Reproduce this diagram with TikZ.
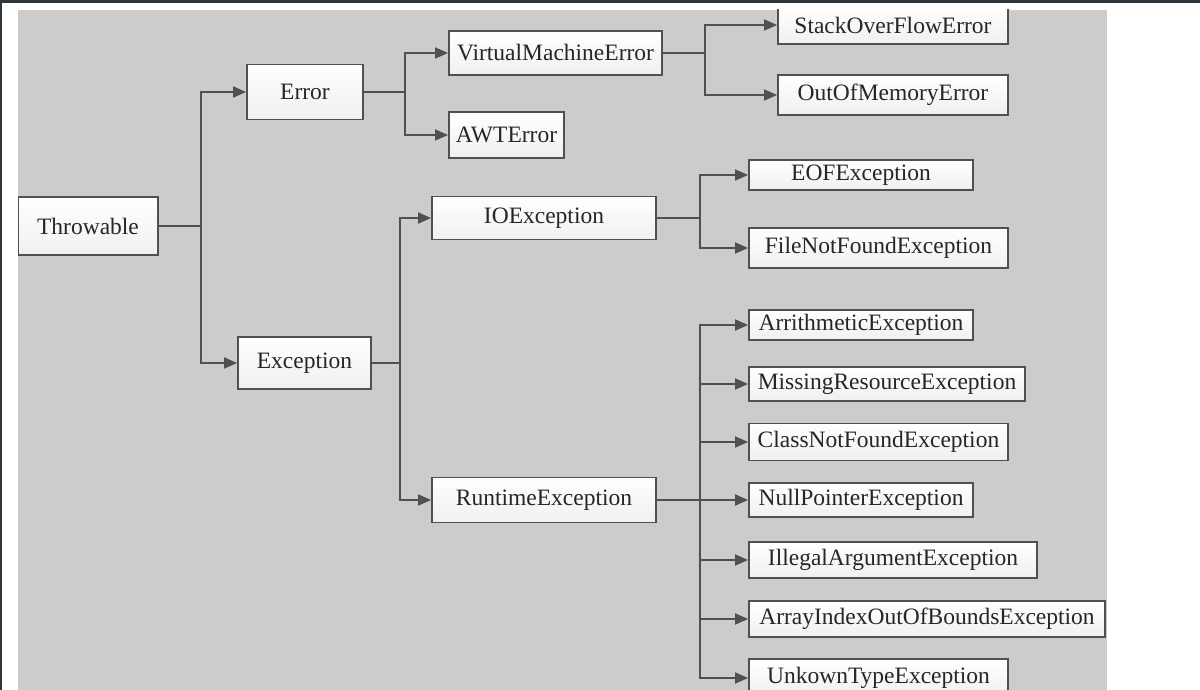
\documentclass[tikz,border=0pt]{standalone}
\usepackage{fontspec}
\setmainfont{Liberation Serif}
\usetikzlibrary{arrows.meta}
\definecolor{panel}{HTML}{CCCCCC}
\definecolor{edge}{HTML}{505050}
\definecolor{ink}{HTML}{262626}
\definecolor{topbar}{HTML}{2F363C}
\tikzset{
  cls/.style={draw=edge, line width=1.8pt, top color=white, bottom color=black!6,
    inner sep=0pt, text=ink, font=\fontsize{23.5}{27}\selectfont},
  link/.style={draw=edge, line width=1.8pt}
}
\begin{document}
\begin{tikzpicture}[x=1pt, y=-1pt, >={Triangle[length=13pt,width=11pt]}]
\useasboundingbox (0,0) rectangle (1200,690);
\fill[white] (0,0) rectangle (1200,690);
\fill[topbar] (0,0) rectangle (1200,3);
\fill[topbar] (0,0) rectangle (1.5,690);
\fill[panel] (18,10) rectangle (1107,690);

\begin{scope}
\clip (18,10) rectangle (1107,690);
\node[cls, minimum width=140pt, minimum height=58pt] (thr) at (88,226) {Throwable};
\node[cls, minimum width=116pt, minimum height=55pt] (err) at (305,92) {Error};
\node[cls, minimum width=133pt, minimum height=52pt] (exc) at (304.5,363) {Exception};

\node[cls, minimum width=213pt, minimum height=44pt] (vme) at (555.5,53) {VirtualMachineError};
\node[cls, minimum width=115pt, minimum height=46pt] (awt) at (506.5,135) {AWTError};
\node[cls, minimum width=230pt, minimum height=38pt] (sof) at (893,25) {StackOverFlowError};
\node[cls, minimum width=230pt, minimum height=40pt] (oom) at (893,95) {OutOfMemoryError};

\node[cls, minimum width=224pt, minimum height=43pt] (ioe) at (544,218) {IOException};
\node[cls, minimum width=224pt, minimum height=45pt] (rte) at (544,500) {RuntimeException};
\node[cls, minimum width=224pt, minimum height=30pt] (eof) at (861,175) {EOFException};
\node[cls, minimum width=259pt, minimum height=40pt] (fnf) at (878.5,248) {FileNotFoundException};

\node[cls, minimum width=224pt, minimum height=30pt] (ari) at (861,325) {ArrithmeticException};
\node[cls, minimum width=276pt, minimum height=34pt] (mre) at (887,384) {MissingResourceException};
\node[cls, minimum width=259pt, minimum height=37pt] (cnf) at (878.5,442) {ClassNotFoundException};
\node[cls, minimum width=224pt, minimum height=34pt] (npe) at (861,500) {NullPointerException};
\node[cls, minimum width=288pt, minimum height=36pt] (iae) at (893,560) {IllegalArgumentException};
\node[cls, minimum width=356pt, minimum height=36pt] (aio) at (927,619) {ArrayIndexOutOfBoundsException};
\node[cls, minimum width=259pt, minimum height=38pt] (ute) at (878.5,678) {UnkownTypeException};

% branch points
\coordinate (jthr) at (201,226);
\coordinate (jerr) at (405,92);
\coordinate (jvme) at (705,53);
\coordinate (jexc) at (400,363);
\coordinate (jioe) at (700,218);
\coordinate (jrte) at (700,500);

\draw[link] (thr) -- (jthr);
\draw[link,->] (jthr) |- (err);
\draw[link,->] (jthr) |- (exc);

\draw[link] (err) -- (jerr);
\draw[link,->] (jerr) |- (vme);
\draw[link,->] (jerr) |- (awt);

\draw[link] (vme) -- (jvme);
\draw[link,->] (jvme) |- (sof);
\draw[link,->] (jvme) |- (oom);

\draw[link] (exc) -- (jexc);
\draw[link,->] (jexc) |- (ioe);
\draw[link,->] (jexc) |- (rte);

\draw[link] (ioe) -- (jioe);
\draw[link,->] (jioe) |- (eof);
\draw[link,->] (jioe) |- (fnf);

\draw[link] (rte) -- (jrte);
\draw[link,->] (jrte) |- (ari);
\draw[link,->] (jrte) |- (mre);
\draw[link,->] (jrte) |- (cnf);
\draw[link,->] (jrte) |- (npe);
\draw[link,->] (jrte) |- (iae);
\draw[link,->] (jrte) |- (aio);
\draw[link,->] (jrte) |- (ute);
\end{scope}
\end{tikzpicture}
\end{document}
